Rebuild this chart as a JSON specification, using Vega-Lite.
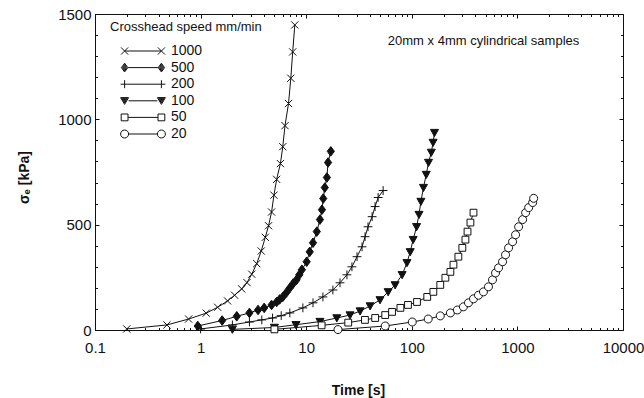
{
  "$schema": "https://vega.github.io/schema/vega-lite/v6.json",
  "width": 528,
  "height": 316,
  "autosize": {"type": "none"},
  "padding": {"left": 95, "top": 14, "right": 21, "bottom": 68},
  "background": "white",
  "config": {
    "font": "Liberation Sans",
    "view": {"stroke": "#111", "strokeWidth": 1},
    "axis": {
      "labelFont": "Liberation Sans", "labelFontSize": 15, "labelColor": "#111",
      "domain": false, "tickColor": "#111", "tickWidth": 1, "grid": false,
      "titleFont": "Liberation Sans", "titleFontSize": 14, "titleFontWeight": "bold", "titleColor": "#111",
      "labelOverlap": false, "labelFlush": false
    }
  },
  "data": {
    "values": [
      {"speed": "1000", "time": 0.2, "stress": 5},
      {"speed": "1000", "time": 0.48, "stress": 24},
      {"speed": "1000", "time": 0.77, "stress": 52},
      {"speed": "1000", "time": 1.13, "stress": 80},
      {"speed": "1000", "time": 1.45, "stress": 108},
      {"speed": "1000", "time": 1.8, "stress": 138},
      {"speed": "1000", "time": 2.1, "stress": 165},
      {"speed": "1000", "time": 2.45, "stress": 195},
      {"speed": "1000", "time": 2.75, "stress": 225},
      {"speed": "1000", "time": 3.05, "stress": 265},
      {"speed": "1000", "time": 3.4, "stress": 315},
      {"speed": "1000", "time": 3.75, "stress": 375},
      {"speed": "1000", "time": 4.1, "stress": 440},
      {"speed": "1000", "time": 4.4, "stress": 495},
      {"speed": "1000", "time": 4.7, "stress": 560},
      {"speed": "1000", "time": 4.95, "stress": 640},
      {"speed": "1000", "time": 5.25, "stress": 715},
      {"speed": "1000", "time": 5.7, "stress": 790},
      {"speed": "1000", "time": 6.0, "stress": 870},
      {"speed": "1000", "time": 6.3, "stress": 970},
      {"speed": "1000", "time": 6.8, "stress": 1075},
      {"speed": "1000", "time": 7.15, "stress": 1195},
      {"speed": "1000", "time": 7.45, "stress": 1320},
      {"speed": "1000", "time": 7.8, "stress": 1448},

      {"speed": "500", "time": 0.94, "stress": 19},
      {"speed": "500", "time": 1.6, "stress": 45},
      {"speed": "500", "time": 2.2, "stress": 65},
      {"speed": "500", "time": 2.9, "stress": 81},
      {"speed": "500", "time": 3.5, "stress": 95},
      {"speed": "500", "time": 4.0, "stress": 105},
      {"speed": "500", "time": 4.7, "stress": 119},
      {"speed": "500", "time": 5.25, "stress": 133},
      {"speed": "500", "time": 5.6, "stress": 145},
      {"speed": "500", "time": 6.0, "stress": 157},
      {"speed": "500", "time": 6.5, "stress": 178},
      {"speed": "500", "time": 7.0, "stress": 200},
      {"speed": "500", "time": 7.5, "stress": 220},
      {"speed": "500", "time": 8.1, "stress": 238},
      {"speed": "500", "time": 8.6, "stress": 262},
      {"speed": "500", "time": 9.1, "stress": 286},
      {"speed": "500", "time": 10.1, "stress": 324},
      {"speed": "500", "time": 10.8, "stress": 371},
      {"speed": "500", "time": 11.6, "stress": 414},
      {"speed": "500", "time": 12.6, "stress": 467},
      {"speed": "500", "time": 13.5, "stress": 524},
      {"speed": "500", "time": 14.1, "stress": 571},
      {"speed": "500", "time": 14.5, "stress": 624},
      {"speed": "500", "time": 15.0, "stress": 676},
      {"speed": "500", "time": 15.7, "stress": 724},
      {"speed": "500", "time": 16.1, "stress": 795},
      {"speed": "500", "time": 17.1, "stress": 848},

      {"speed": "200", "time": 1.0, "stress": 5},
      {"speed": "200", "time": 2.0, "stress": 24},
      {"speed": "200", "time": 2.9, "stress": 38},
      {"speed": "200", "time": 3.8, "stress": 48},
      {"speed": "200", "time": 4.8, "stress": 57},
      {"speed": "200", "time": 5.8, "stress": 68},
      {"speed": "200", "time": 7.0, "stress": 81},
      {"speed": "200", "time": 9.3, "stress": 105},
      {"speed": "200", "time": 11.6, "stress": 129},
      {"speed": "200", "time": 14.4, "stress": 157},
      {"speed": "200", "time": 17.9, "stress": 190},
      {"speed": "200", "time": 20.9, "stress": 224},
      {"speed": "200", "time": 24.3, "stress": 262},
      {"speed": "200", "time": 27.1, "stress": 300},
      {"speed": "200", "time": 30.3, "stress": 348},
      {"speed": "200", "time": 33.8, "stress": 395},
      {"speed": "200", "time": 36.1, "stress": 443},
      {"speed": "200", "time": 38.5, "stress": 490},
      {"speed": "200", "time": 42.1, "stress": 538},
      {"speed": "200", "time": 44.9, "stress": 586},
      {"speed": "200", "time": 48.0, "stress": 629},
      {"speed": "200", "time": 53.5, "stress": 662},

      {"speed": "100", "time": 2.0, "stress": 3},
      {"speed": "100", "time": 5.0, "stress": 12},
      {"speed": "100", "time": 8.0, "stress": 25},
      {"speed": "100", "time": 13.5, "stress": 40},
      {"speed": "100", "time": 19.5, "stress": 57},
      {"speed": "100", "time": 26, "stress": 71},
      {"speed": "100", "time": 32.4, "stress": 90},
      {"speed": "100", "time": 40.3, "stress": 114},
      {"speed": "100", "time": 50, "stress": 143},
      {"speed": "100", "time": 59.7, "stress": 181},
      {"speed": "100", "time": 69.5, "stress": 214},
      {"speed": "100", "time": 81, "stress": 262},
      {"speed": "100", "time": 90, "stress": 319},
      {"speed": "100", "time": 96.6, "stress": 371},
      {"speed": "100", "time": 103, "stress": 429},
      {"speed": "100", "time": 111, "stress": 490},
      {"speed": "100", "time": 117, "stress": 548},
      {"speed": "100", "time": 122, "stress": 610},
      {"speed": "100", "time": 129, "stress": 676},
      {"speed": "100", "time": 137, "stress": 738},
      {"speed": "100", "time": 144, "stress": 795},
      {"speed": "100", "time": 153, "stress": 843},
      {"speed": "100", "time": 159, "stress": 890},
      {"speed": "100", "time": 164, "stress": 937},

      {"speed": "50", "time": 5, "stress": 3},
      {"speed": "50", "time": 14, "stress": 22},
      {"speed": "50", "time": 25, "stress": 35},
      {"speed": "50", "time": 36, "stress": 48},
      {"speed": "50", "time": 45, "stress": 57},
      {"speed": "50", "time": 56, "stress": 71},
      {"speed": "50", "time": 65, "stress": 86},
      {"speed": "50", "time": 78, "stress": 105},
      {"speed": "50", "time": 92, "stress": 119},
      {"speed": "50", "time": 112, "stress": 133},
      {"speed": "50", "time": 140, "stress": 157},
      {"speed": "50", "time": 160, "stress": 181},
      {"speed": "50", "time": 186, "stress": 214},
      {"speed": "50", "time": 208, "stress": 248},
      {"speed": "50", "time": 232, "stress": 276},
      {"speed": "50", "time": 248, "stress": 310},
      {"speed": "50", "time": 276, "stress": 348},
      {"speed": "50", "time": 301, "stress": 390},
      {"speed": "50", "time": 322, "stress": 429},
      {"speed": "50", "time": 337, "stress": 467},
      {"speed": "50", "time": 359, "stress": 510},
      {"speed": "50", "time": 384, "stress": 557},

      {"speed": "20", "time": 20, "stress": 2},
      {"speed": "20", "time": 56, "stress": 19},
      {"speed": "20", "time": 101, "stress": 38},
      {"speed": "20", "time": 143, "stress": 52},
      {"speed": "20", "time": 186, "stress": 67},
      {"speed": "20", "time": 232, "stress": 81},
      {"speed": "20", "time": 270, "stress": 95},
      {"speed": "20", "time": 308, "stress": 110},
      {"speed": "20", "time": 344, "stress": 129},
      {"speed": "20", "time": 384, "stress": 148},
      {"speed": "20", "time": 428, "stress": 165},
      {"speed": "20", "time": 477, "stress": 181},
      {"speed": "20", "time": 532, "stress": 205},
      {"speed": "20", "time": 581, "stress": 238},
      {"speed": "20", "time": 621, "stress": 271},
      {"speed": "20", "time": 663, "stress": 295},
      {"speed": "20", "time": 723, "stress": 324},
      {"speed": "20", "time": 772, "stress": 357},
      {"speed": "20", "time": 825, "stress": 390},
      {"speed": "20", "time": 900, "stress": 419},
      {"speed": "20", "time": 961, "stress": 452},
      {"speed": "20", "time": 1027, "stress": 490},
      {"speed": "20", "time": 1120, "stress": 524},
      {"speed": "20", "time": 1197, "stress": 557},
      {"speed": "20", "time": 1278, "stress": 581},
      {"speed": "20", "time": 1394, "stress": 605},
      {"speed": "20", "time": 1425, "stress": 625}
    ]
  },
  "layer": [
    {
      "mark": {"type": "line", "color": "#111", "strokeWidth": 1},
      "encoding": {
        "x": {
          "field": "time", "type": "quantitative",
          "scale": {"type": "log", "domain": [0.1, 10000], "nice": false},
          "axis": {
            "orient": "bottom", "title": "Time [s]",
            "values": [0.1, 1, 10, 100, 1000, 10000],
            "labelExpr": "'' + datum.value",
            "tickSize": -4, "labelPadding": 14,
            "titleX": 263, "titleY": 60, "titleBaseline": "middle"
          }
        },
        "y": {
          "field": "stress", "type": "quantitative",
          "scale": {"domain": [0, 1500], "nice": false},
          "axis": {
            "orient": "left", "title": "σₑ [kPa]",
            "values": [0, 500, 1000, 1500],
            "labelExpr": "'' + datum.value",
            "tickSize": -4, "labelPadding": 8,
            "titleX": -71, "titleY": 163, "titleBaseline": "middle", "titleAlign": "center", "titleAngle": 270
          }
        },
        "detail": {"field": "speed", "type": "nominal"}
      }
    },
    {
      "mark": {"type": "point", "size": 64, "filled": true, "stroke": "#111", "strokeWidth": 1, "opacity": 1},
      "encoding": {
        "x": {
          "field": "time", "type": "quantitative",
          "axis": {"orient": "top", "title": null, "labels": false, "values": [0.1, 1, 10, 100, 1000, 10000], "tickSize": -4}
        },
        "y": {
          "field": "stress", "type": "quantitative",
          "axis": {"orient": "right", "title": null, "labels": false, "values": [0, 500, 1000, 1500], "tickSize": -4}
        },
        "fill": {
          "field": "speed", "type": "nominal",
          "scale": {"domain": ["1000","500","200","100","50","20"], "range": ["#fff","#111","#fff","#111","#fff","#fff"]},
          "legend": null
        },
        "shape": {
          "field": "speed", "type": "nominal",
          "scale": {
            "domain": ["1000","500","200","100","50","20"],
            "range": [
              "M-0.9,-0.9L0.9,0.9M-0.9,0.9L0.9,-0.9",
              "M0,-1.2L0.9,0L0,1.2L-0.9,0Z",
              "M-1.1,0H1.1M0,-1.1V1.1",
              "M-1,-0.8H1L0,1Z",
              "M-0.85,-0.85H0.85V0.85H-0.85Z",
              "M1,0A1,1 0 1,1 -1,0A1,1 0 1,1 1,0Z"
            ]
          },
          "legend": null
        }
      }
    },
    {
      "mark": {"type": "point", "size": 0, "filled": false, "stroke": "#111", "strokeWidth": 1},
      "encoding": {
        "x": {
          "field": "time", "type": "quantitative",
          "axis": {"orient": "bottom", "title": null, "labels": false, "values": [0.2,0.3,0.4,0.5,0.6,0.7,0.8,0.9,2,3,4,5,6,7,8,9,20,30,40,50,60,70,80,90,200,300,400,500,600,700,800,900,2000,3000,4000,5000,6000,7000,8000,9000], "tickSize": -2.5}
        },
        "y": {
          "field": "stress", "type": "quantitative",
          "axis": {"orient": "left", "title": null, "labels": false, "values": [100,200,300,400,600,700,800,900,1100,1200,1300,1400], "tickSize": -2.5}
        },
        "shape": {
          "field": "speed", "type": "nominal",
          "scale": {
            "domain": ["1000","500","200","100","50","20"],
            "range": [
              "M-5.5,-0.9L-3.7,0.9M-5.5,0.9L-3.7,-0.9M-4.6,0H4.6M3.7,-0.9L5.5,0.9M3.7,0.9L5.5,-0.9",
              "M-3.8,0H3.8M-4.6,-1.1L-3.8,0L-4.6,1.1L-5.4,0ZM-4.6,-0.8L-4.05,0L-4.6,0.8L-5.15,0ZM-4.6,-0.5L-4.3,0L-4.6,0.5L-4.9,0ZM-4.6,-0.2L-4.5,0L-4.6,0.2L-4.7,0ZM4.6,-1.1L5.4,0L4.6,1.1L3.8,0ZM4.6,-0.8L5.15,0L4.6,0.8L4.05,0ZM4.6,-0.5L4.9,0L4.6,0.5L4.3,0ZM4.6,-0.2L4.7,0L4.6,0.2L4.5,0Z",
              "M-5.6,0H5.6M-4.6,-1V1M4.6,-1V1",
              "M-3.6,0H3.6M-5.6,-0.8H-3.6L-4.6,0.9ZM-5.3,-0.63H-3.9L-4.6,0.56ZM-5.0,-0.46H-4.2L-4.6,0.22ZM-4.75,-0.32H-4.45L-4.6,-0.06ZM3.6,-0.8H5.6L4.6,0.9ZM3.9,-0.63H5.3L4.6,0.56ZM4.2,-0.46H5.0L4.6,0.22ZM4.45,-0.32H4.75L4.6,-0.06Z",
              "M-3.75,0H3.75M-5.45,-0.85H-3.75V0.85H-5.45ZM3.75,-0.85H5.45V0.85H3.75Z",
              "M-3.6,0H3.6M-3.6,0A1,1 0 1,1 -5.6,0A1,1 0 1,1 -3.6,0ZM5.6,0A1,1 0 1,1 3.6,0A1,1 0 1,1 5.6,0Z"
            ]
          },
          "legend": {
            "title": "Crosshead speed mm/min",
            "orient": "none", "legendX": 15, "legendY": 6.5, "padding": 0,
            "titleFont": "Liberation Sans", "titleFontSize": 13, "titleFontWeight": "normal", "titleColor": "#111", "titlePadding": 10.5,
            "labelFont": "Liberation Sans", "labelFontSize": 14, "labelColor": "#111",
            "symbolSize": 64, "symbolOffset": 26, "labelOffset": 21, "rowPadding": 2.6,
            "symbolStrokeWidth": 1, "symbolStrokeColor": "#111", "symbolOpacity": 1
          }
        }
      }
    },
    {
      "mark": {"type": "point", "size": 0, "opacity": 0},
      "encoding": {
        "x": {
          "field": "time", "type": "quantitative",
          "axis": {"orient": "top", "title": null, "labels": false, "values": [0.2,0.3,0.4,0.5,0.6,0.7,0.8,0.9,2,3,4,5,6,7,8,9,20,30,40,50,60,70,80,90,200,300,400,500,600,700,800,900,2000,3000,4000,5000,6000,7000,8000,9000], "tickSize": -2.5}
        },
        "y": {
          "field": "stress", "type": "quantitative",
          "axis": {"orient": "right", "title": null, "labels": false, "values": [100,200,300,400,600,700,800,900,1100,1200,1300,1400], "tickSize": -2.5}
        }
      }
    },
    {
      "data": {"values": [{}]},
      "mark": {"type": "text", "font": "Liberation Sans", "fontSize": 13, "color": "#111", "align": "center", "baseline": "middle"},
      "encoding": {
        "x": {"datum": 478, "type": "quantitative", "axis": null},
        "y": {"datum": 1370, "type": "quantitative", "axis": null},
        "text": {"value": "20mm x 4mm cylindrical samples"}
      }
    }
  ],
  "resolve": {"axis": {"x": "independent", "y": "independent"}, "scale": {"shape": "independent"}}
}
